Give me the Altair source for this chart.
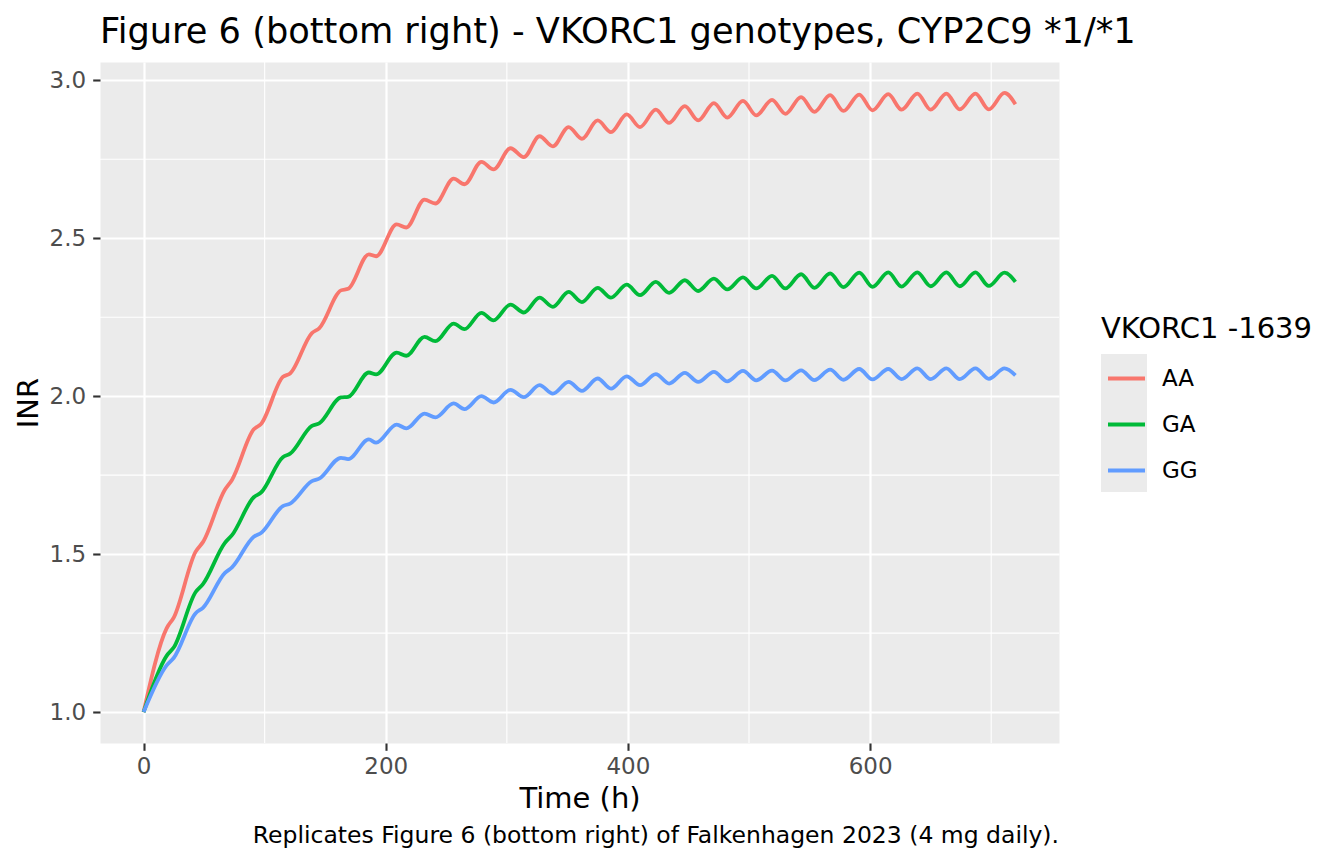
import altair as alt
import pandas as pd

# ---- data ----
TIME = [0, 19, 25, 43, 49, 67, 73, 91, 97, 115, 121, 139, 145, 163, 169,
        186, 192, 209, 217, 232, 241, 256, 265, 279, 289, 303, 314, 327, 338,
        351, 362, 375, 386, 399, 410, 423, 434, 447, 458, 471, 482, 495, 506,
        519, 530, 543, 554, 567, 578, 591, 602, 615, 626, 639, 650, 663, 674,
        687, 698, 711, 720]

INR_AA = [1.000, 1.265, 1.300, 1.508, 1.538, 1.703, 1.735, 1.895, 1.912, 2.061, 2.072,
          2.200, 2.215, 2.335, 2.340,
          2.449, 2.443, 2.544, 2.534, 2.622, 2.610, 2.689, 2.671, 2.742, 2.718,
          2.785, 2.757, 2.823, 2.791, 2.852, 2.815, 2.873, 2.836, 2.892, 2.852,
          2.907, 2.865, 2.918, 2.873, 2.928, 2.882, 2.935, 2.889, 2.938, 2.894,
          2.947, 2.900, 2.953, 2.903, 2.955, 2.905, 2.956, 2.907, 2.958, 2.907,
          2.958, 2.908, 2.958, 2.908, 2.960, 2.924]

INR_GA = [1.000, 1.178, 1.205, 1.380, 1.405, 1.535, 1.560, 1.680, 1.695, 1.807, 1.818,
          1.906, 1.914, 1.996, 1.998,
          2.075, 2.069, 2.138, 2.128, 2.188, 2.174, 2.230, 2.212, 2.264, 2.240,
          2.290, 2.265, 2.312, 2.283, 2.330, 2.298, 2.343, 2.312, 2.353, 2.320,
          2.362, 2.327, 2.367, 2.333, 2.372, 2.338, 2.376, 2.341, 2.381, 2.341,
          2.386, 2.343, 2.389, 2.345, 2.391, 2.346, 2.392, 2.347, 2.392, 2.348,
          2.392, 2.348, 2.392, 2.349, 2.391, 2.362]

INR_GG = [1.000, 1.148, 1.172, 1.313, 1.330, 1.440, 1.458, 1.555, 1.567, 1.652, 1.660,
          1.731, 1.739, 1.805, 1.801,
          1.863, 1.853, 1.910, 1.898, 1.945, 1.933, 1.977, 1.959, 2.000, 1.980,
          2.020, 1.997, 2.035, 2.008, 2.045, 2.017, 2.056, 2.024, 2.063, 2.035,
          2.070, 2.040, 2.074, 2.045, 2.077, 2.047, 2.080, 2.050, 2.081, 2.050,
          2.082, 2.051, 2.084, 2.052, 2.086, 2.053, 2.086, 2.054, 2.088, 2.054,
          2.088, 2.054, 2.088, 2.055, 2.088, 2.066]

GENOTYPES = ["AA", "GA", "GG"]
COLORS = ["#F8766D", "#00BA38", "#619CFF"]

X_MAJOR = [0, 200, 400, 600]
X_MINOR = [100, 300, 500, 700]
Y_MAJOR = [1.0, 1.5, 2.0, 2.5, 3.0]
Y_MINOR = [1.25, 1.75, 2.25, 2.75]

TITLE = "Figure 6 (bottom right) - VKORC1 genotypes, CYP2C9 *1/*1"
CAPTION = "Replicates Figure 6 (bottom right) of Falkenhagen 2023 (4 mg daily)."

# ---- build tables ----
rows = []
for g, vals in zip(GENOTYPES, [INR_AA, INR_GA, INR_GG]):
    for t, v in zip(TIME, vals):
        rows.append({"time": t, "inr": v, "genotype": g})
df = pd.DataFrame(rows)

W, H = 959, 681
FONT = "DejaVu Sans"

xscale = alt.Scale(domain=[-36, 756], nice=False, zero=False)
yscale = alt.Scale(domain=[0.902, 3.058], nice=False, zero=False)

common_axis = dict(grid=True, gridColor="white", gridWidth=2.2, domain=False,
                   ticks=True, tickSize=7.3, tickWidth=2.1, tickColor="#333333",
                   labelFont=FONT, labelFontSize=23, labelColor="#4D4D4D",
                   titleFont=FONT, titleFontSize=29, titleFontWeight="normal",
                   titleColor="black", labelFlush=False)

xaxis = alt.Axis(values=X_MAJOR, labelPadding=5, titlePadding=6, **common_axis)
yaxis = alt.Axis(values=Y_MAJOR, format=".1f", labelPadding=7, titlePadding=6, **common_axis)

X = alt.X("time:Q", scale=xscale, axis=xaxis, title="Time (h)")
Y = alt.Y("inr:Q", scale=yscale, axis=yaxis, title="INR")

minor_x = alt.Chart(pd.DataFrame({"time": X_MINOR})).mark_rule(
    color="white", strokeWidth=1.1).encode(x=X)
minor_y = alt.Chart(pd.DataFrame({"inr": Y_MINOR})).mark_rule(
    color="white", strokeWidth=1.1).encode(y=Y)

legend = alt.Legend(
    title="VKORC1 -1639", orient="none", legendX=1001, legendY=253,
    titleFont=FONT, titleFontSize=29, titleFontWeight="normal", titleColor="black",
    titlePadding=14, titleLimit=400, labelFont=FONT, labelFontSize=23, labelColor="black",
    symbolType="stroke", symbolStrokeWidth=3.8, symbolSize=1369,
    symbolOffset=5, labelOffset=15, rowPadding=13, padding=0)

lines = alt.Chart(df).mark_line(interpolate="monotone", strokeWidth=3.8).encode(
    x=X, y=Y,
    color=alt.Color("genotype:N", scale=alt.Scale(domain=GENOTYPES, range=COLORS),
                    legend=legend))

key_bg = alt.Chart(pd.DataFrame({"k": [0]})).mark_rect(color="#EBEBEB").encode(
    x=alt.value(1001), x2=alt.value(1047), y=alt.value(292), y2=alt.value(430))

caption = alt.Chart(pd.DataFrame({"caption": [CAPTION]})).mark_text(
    font=FONT, fontSize=23.5, color="black", align="right", baseline="alphabetic").encode(
    text="caption:N", x=alt.value(W), y=alt.value(781))

chart = alt.layer(minor_x, minor_y, key_bg, lines, caption).properties(
    width=W, height=H,
    title=alt.TitleParams(TITLE, anchor="start", frame="group", font=FONT, fontSize=35.2,
                          fontWeight="normal", color="black", baseline="alphabetic",
                          offset=20, dy=37),
    autosize=alt.AutoSizeParams(type="none"),
    padding={"left": 92, "top": 54, "right": 277, "bottom": 120},
    background="white",
).configure_view(fill="#EBEBEB", stroke="transparent")

chart.save("out.html", embed_options={"renderer": "svg", "actions": False})
